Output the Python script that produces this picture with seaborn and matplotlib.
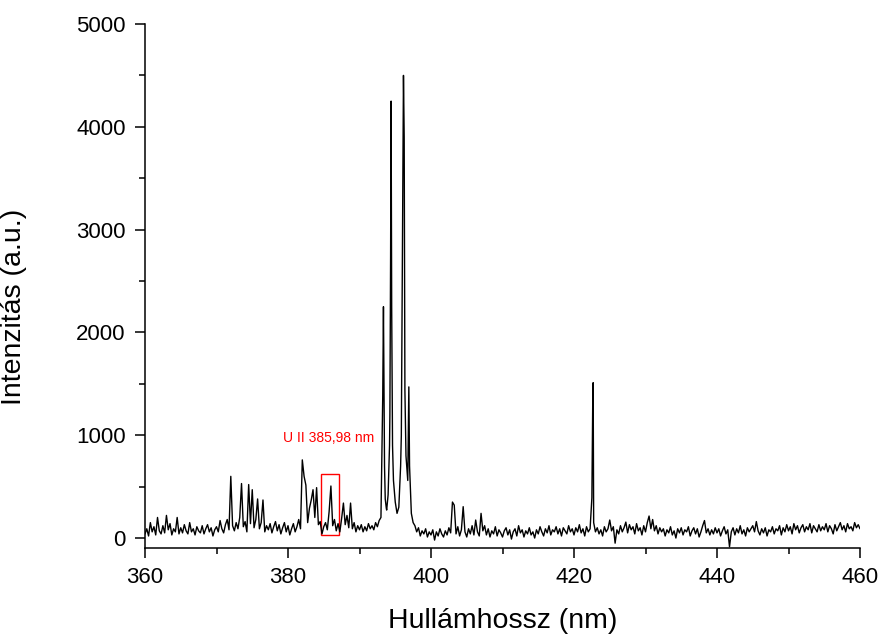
import numpy as np
import pandas as pd
import matplotlib
matplotlib.use("Agg")
import matplotlib.pyplot as plt
from matplotlib.patches import Rectangle
import seaborn as sns

# ---------------- data ----------------
# baseline spectrum sampled every 0.25 nm from 360 to 460 nm
grid_start = 360.0
grid_end = 460.0
base_intensity = [
    # 360.00 - 364.75
    40, 90, 20, 150, 60, 110, 30, 200, 70, 40, 120, 50, 220, 80, 140, 30, 90, 60, 200, 40,
    # 365.00 - 369.75
    100, 50, 130, 70, 40, 150, 60, 90, 30, 110, 70, 50, 120, 40, 90, 130, 60, 100, 20, 80,
    # 370.00 - 374.75
    110, 60, 170, 90, 50, 130, 180, 80, 600, 120, 70, 150, 90, 200, 530, 110, 160, 60, 520, 140,
    # 375.00 - 379.75
    470, 100, 180, 380, 90, 150, 370, 60, 120, 80, 140, 50, 110, 160, 70, 130, 40, 100, 150, 60,
    # 380.00 - 384.75
    120, 30, 90, 140, 60, 110, 180, 90, 760, 600, 515, 150, 290, 370, 470, 200, 490, 130, 160, 40,
    # 385.00 - 389.75
    110, 150, 80, 256, 506, 120, 180, 70, 140, 60, 190, 340, 130, 220, 100, 340, 90, 150, 60, 120,
    # 390.00 - 394.75
    80, 130, 60, 110, 70, 140, 90, 120, 80, 150, 110, 170, 200, 1380, 700, 290, 420, 1200, 2250, 560,
    # 395.00 - 399.75
    350, 240, 300, 700, 2800, 3900, 800, 560, 700, 240, 150, 120, 60, 100, 20, 70, 40, 90, 10, 60,
    # 400.00 - 404.75
    30, 80, -20, 60, 20, 90, 40, 10, 70, 30, 100, 50, 350, 320, 40, 110, 20, 80, 305, 60,
    # 405.00 - 409.75
    10, 90, 40, 120, 30, 175, 60, 20, 240, 70, 120, 30, 90, 10, 70, 40, 110, 20, 80, 50,
    # 410.00 - 414.75
    10, 70, 100, 30, 80, -10, 60, 90, 20, 120, 50, 80, 10, 70, 40, 100, 30, 60, 0, 80,
    # 415.00 - 419.75
    40, 110, 60, 20, 90, 50, 120, 30, 80, 60, 110, 40, 90, 20, 100, 70, 40, 120, 60, 90,
    # 420.00 - 424.75
    30, 100, 60, 130, 50, 90, 20, 110, 60, 90, 390, 150, 60, 100, 40, 80, 20, 110, 60, 90,
    # 425.00 - 429.75
    175, 70, 110, -50, 80, 40, 120, 60, 100, 155, 50, 130, 80, 110, 40, 140, 70, 100, 30, 120,
    # 430.00 - 434.75
    60, 150, 214, 90, 180, 70, 120, 40, 100, 60, 90, 20, 80, 50, 110, 30, 70, 0, 90, 50,
    # 435.00 - 439.75
    100, 30, 80, 60, 110, 20, 70, 100, 40, 90, 10, 60, 120, 170, 50, 90, 30, 80, 40, 100,
    # 440.00 - 444.75
    50, 90, 20, 70, 110, 40, 80, -85, 60, 100, 30, 90, 50, 120, 40, 80, 20, 100, 60, 90,
    # 445.00 - 449.75
    120, 60, 160, 70, 30, 90, 50, 100, 20, 80, 60, 110, 40, 90, 70, 120, 30, 100, 60, 130,
    # 450.00 - 454.75
    70, 110, 40, 140, 80, 120, 50, 100, 130, 60, 110, 80, 140, 50, 120, 90, 60, 130, 70, 110,
    # 455.00 - 459.75
    80, 140, 60, 120, 90, 40, 130, 70, 110, 150, 80, 120, 60, 140, 90, 110, 70, 150, 100, 130,
    # 460.00
    90,
]

# extra samples on the sharp emission lines
line_wavelength = [393.35, 393.60, 393.80, 394.20, 394.35, 394.42, 394.62,
                   395.85, 396.15, 396.35, 396.90, 422.62, 422.68]
line_intensity = [2250, 380, 272, 900, 2740, 4250, 900,
                  1000, 4500, 1440, 1470, 1326, 1511]

annotation_text = "U II 385,98 nm"
x_ticks = [360, 380, 400, 420, 440, 460]
y_ticks = [0, 1000, 2000, 3000, 4000, 5000]
x_label = "Hullámhossz (nm)"
y_label = "Intenzitás (a.u.)"

# ---------------- build table ----------------
grid_wl = np.linspace(grid_start, grid_end, len(base_intensity))
df = pd.DataFrame({
    "wl": np.concatenate([grid_wl, line_wavelength]),
    "I": np.concatenate([base_intensity, line_intensity]).astype(float),
}).sort_values("wl").reset_index(drop=True)

# ---------------- plot ----------------
sns.set_style("ticks")
plt.rcParams["font.family"] = ["Liberation Sans", "DejaVu Sans"]
plt.rcParams["text.color"] = "black"
plt.rcParams["axes.labelcolor"] = "black"

fig = plt.figure(figsize=(8.83, 6.37), dpi=100)
ax = fig.add_axes([145 / 883, 1 - 548 / 637, 715 / 883, (548 - 24) / 637])

sns.lineplot(data=df, x="wl", y="I", ax=ax, color="black", linewidth=1.0,
             estimator=None, sort=False)

ax.set_xlim(360, 460)
ax.set_ylim(-97, 5000)
ax.set_xticks(x_ticks)
ax.set_yticks(y_ticks)
ax.set_xticks(np.arange(360, 461, 10), minor=True)
ax.set_yticks(np.arange(0, 5001, 500), minor=True)

for s in ["top", "right"]:
    ax.spines[s].set_visible(False)
for s in ["left", "bottom"]:
    ax.spines[s].set_linewidth(1.1)
    ax.spines[s].set_color("black")

ax.tick_params(axis="both", which="major", direction="out", length=7, width=1.1,
               labelsize=16, colors="black", pad=7)
ax.tick_params(axis="both", which="minor", direction="out", length=4, width=1.1,
               colors="black")

ax.set_xlabel(x_label, fontsize=20.5, labelpad=14, color="black")
ax.set_ylabel(y_label, fontsize=20.5, color="black")
ax.yaxis.set_label_coords(-0.165, 0.46)

# annotation
ax.add_patch(Rectangle((384.6, 30), 2.6, 590, fill=False, edgecolor="red", linewidth=1.0))
ax.text(379.3, 976, annotation_text, color="red", fontsize=10, ha="left", va="center")

fig.savefig("out.png", dpi=100)
